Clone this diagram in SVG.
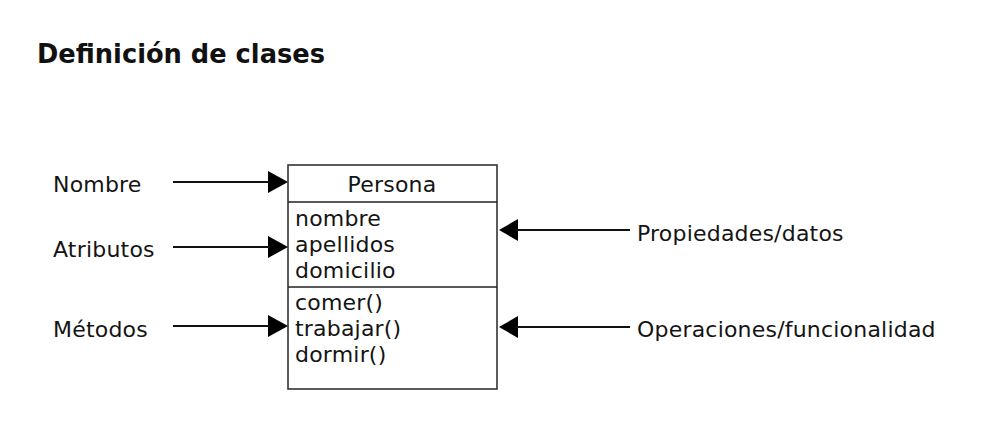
<svg xmlns="http://www.w3.org/2000/svg" width="987" height="441" viewBox="0 0 987 441">
<style>
.t{font-family:"DejaVu Sans","Liberation Sans",sans-serif;font-size:22px;letter-spacing:0.2px;fill:#141414}
.title{font-family:"DejaVu Sans","Liberation Sans",sans-serif;font-size:26px;font-weight:bold;fill:#111}
.box{fill:#fff;stroke:#333;stroke-width:1.6}
.ln{stroke:#222;stroke-width:1.6;fill:none}
.c{stroke:#111;stroke-width:1.8}
</style>
<rect width="987" height="441" fill="#fff"/>
<text class="title" x="37" y="63" textLength="288" lengthAdjust="spacingAndGlyphs">Definición de clases</text>
<g id="clase-persona">
<rect class="box" x="288" y="165" width="209" height="224"/>
<line class="ln" x1="288" y1="202" x2="497" y2="202"/>
<line class="ln" x1="288" y1="287" x2="497" y2="287"/>
<text class="t" x="392" y="192" text-anchor="middle">Persona</text>
<text class="t" x="295" y="226">nombre</text>
<text class="t" x="295" y="252">apellidos</text>
<text class="t" x="295" y="278">domicilio</text>
<text class="t" x="295" y="310">comer()</text>
<text class="t" x="295" y="336">trabajar()</text>
<text class="t" x="295" y="362">dormir()</text>
</g>
<g id="label-nombre"><text class="t" x="53" y="192">Nombre</text></g>
<g id="label-atributos"><text class="t" x="53" y="257">Atributos</text></g>
<g id="label-metodos"><text class="t" x="53" y="337">Métodos</text></g>
<g id="label-propiedades"><text class="t" x="637" y="241">Propiedades/datos</text></g>
<g id="label-operaciones"><text class="t" x="637" y="337">Operaciones/funcionalidad</text></g>
<g id="connectors">
<path d="M268,171 L288,182 L268,193 Z" fill="#000"/>
<line class="c" x1="173" y1="182" x2="270" y2="182"/>
<path d="M268,236 L288,247 L268,258 Z" fill="#000"/>
<line class="c" x1="173" y1="247" x2="270" y2="247"/>
<path d="M268,315 L288,326 L268,337 Z" fill="#000"/>
<line class="c" x1="173" y1="326" x2="270" y2="326"/>
<path d="M518,219 L499,230 L518,241 Z" fill="#000"/>
<line class="c" x1="516" y1="230" x2="630" y2="230"/>
<path d="M518,316 L499,327 L518,338 Z" fill="#000"/>
<line class="c" x1="516" y1="327" x2="630" y2="327"/>
</g>
</svg>
